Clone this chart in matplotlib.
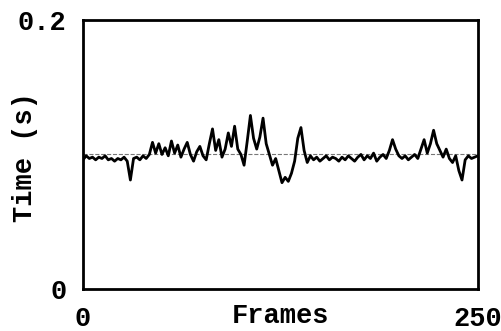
import numpy as np
import matplotlib
matplotlib.use('Agg')
import matplotlib.pyplot as plt

# ---------------------------------------------------------------------------
# Data read off the scan: processing time per frame (s), sampled every 2 frames
# ---------------------------------------------------------------------------
frames = list(range(0, 251, 2))
times_s = [
    0.096, 0.099, 0.097, 0.098, 0.096, 0.098, 0.097, 0.099, 0.096, 0.097,
    0.095, 0.097, 0.096, 0.098, 0.095, 0.081, 0.097, 0.098, 0.096, 0.099,
    0.097, 0.100, 0.109, 0.101, 0.108, 0.100, 0.105, 0.099, 0.110, 0.101,
    0.107, 0.098, 0.104, 0.109, 0.100, 0.095, 0.102, 0.106, 0.099, 0.096,
    0.108, 0.119, 0.103, 0.111, 0.098, 0.104, 0.116, 0.106, 0.121, 0.104,
    0.100, 0.092, 0.110, 0.129, 0.112, 0.104, 0.113, 0.127, 0.108, 0.100,
    0.092, 0.097, 0.088, 0.079, 0.083, 0.080, 0.086, 0.095, 0.112, 0.120,
    0.103, 0.094, 0.099, 0.096, 0.098, 0.095, 0.097, 0.099, 0.096, 0.098,
    0.097, 0.095, 0.098, 0.096, 0.099, 0.097, 0.095, 0.098, 0.100, 0.096,
    0.099, 0.097, 0.101, 0.095, 0.098, 0.100, 0.097, 0.103, 0.111, 0.104,
    0.099, 0.097, 0.099, 0.096, 0.098, 0.100, 0.097, 0.104, 0.111, 0.101,
    0.108, 0.118, 0.108, 0.103, 0.098, 0.104, 0.097, 0.094, 0.099, 0.088,
    0.081, 0.096, 0.099, 0.097, 0.098, 0.099,
]
target_s = 0.1
x_ticks = [0, 250]
y_ticks = [0, 0.2]
y_ticklabels = ['0', '0.2']

FONT = {'family': 'Liberation Mono', 'weight': 'bold', 'size': 19.5}

fig = plt.figure(figsize=(5.01, 3.31), dpi=100)
ax = fig.add_axes([0.1657, 0.127, 0.788, 0.8127])

ax.axhline(target_s, color='#777777', linestyle='--', linewidth=0.8, zorder=1)
ax.plot(frames, times_s, color='black', linewidth=2.0, zorder=2)

ax.set_xlim(0, 250)
ax.set_ylim(0, 0.2)
ax.set_xticks(x_ticks)
ax.set_xticklabels([str(t) for t in x_ticks], fontdict=FONT)
ax.set_yticks(y_ticks)
ax.set_yticklabels(y_ticklabels, fontdict=FONT)
ax.tick_params(axis='both', length=0)
ax.tick_params(axis='x', pad=12)
ax.tick_params(axis='y', pad=12)

for sp in ax.spines.values():
    sp.set_linewidth(2.0)

ax.set_xlabel('Frames', fontdict=FONT)
ax.xaxis.set_label_coords(0.5, -0.1)
ax.xaxis.label.set_va('center')
ax.set_ylabel('Time (s)', fontdict=FONT)
ax.yaxis.set_label_coords(-0.147, 0.49)
ax.yaxis.label.set_va('center')

fig.savefig('out.png', dpi=100)
